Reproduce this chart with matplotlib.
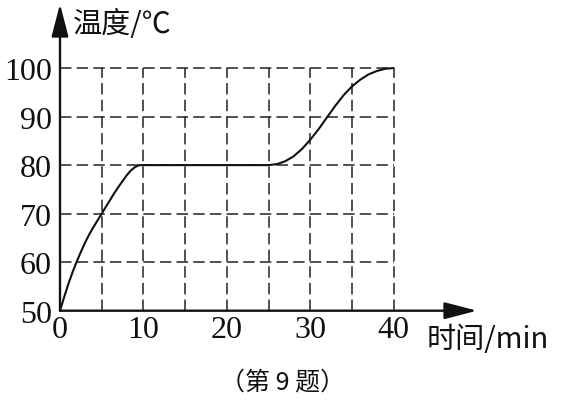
import matplotlib
matplotlib.use("Agg")
import matplotlib.pyplot as plt

# ---- data ----
time_min = [0, 0.5, 1, 1.5, 2, 2.5, 3, 3.5, 4, 4.5, 5, 5.5, 6, 6.5, 7, 7.5, 8, 8.5, 9, 9.5,
            10, 15, 20, 25,
            26, 27, 28, 29, 30, 31, 32, 33, 34, 35, 36, 37, 38, 39, 40]
temp_c = [50, 52.8, 55.5, 57.9, 60.1, 62.1, 64.0, 65.7, 67.2, 68.6, 70.0, 71.4, 72.8, 74.2,
          75.5, 76.7, 77.9, 78.9, 79.6, 80,
          80, 80, 80, 80,
          80.2, 80.8, 81.8, 83.3, 85.2, 87.4, 89.8, 92.2, 94.4, 96.2, 97.6, 98.7, 99.4, 99.85, 100]
x_ticks = [0, 10, 20, 30, 40]
y_ticks = [50, 60, 70, 80, 90, 100]
grid_x = [5, 10, 15, 20, 25, 30, 35, 40]
grid_y = [60, 70, 80, 90, 100]
x_label = "时间/min"
y_label = "温度/℃"
caption = "（第 9 题）"

W, H = 567, 402
fig = plt.figure(figsize=(W / 100, H / 100), dpi=100)
ax = fig.add_axes([60 / W, 1 - 311.7 / H, (477 - 60) / W, (311.7 - 5) / H])
ax.set_xlim(0, 50.0)
ax.set_ylim(50, 113.2)
for s in ax.spines.values():
    s.set_visible(False)

# dashed grid
dash = (0, (7.5, 3.4))
ax.vlines(grid_x, 50, 100, colors="#222", linewidth=1.1, linestyles=dash, zorder=1)
ax.hlines(grid_y, 0, 40, colors="#222", linewidth=1.1, linestyles=dash, zorder=1)

# curve
ax.plot(time_min, temp_c, color="#111", linewidth=1.5, solid_joinstyle="round",
        solid_capstyle="round", zorder=3)

# axes with arrows
arrow = dict(arrowstyle="-|>,head_length=1.0,head_width=0.26", color="#111",
             linewidth=1.7, shrinkA=0, shrinkB=0, mutation_scale=20)
ax.annotate("", xy=(1, 0), xytext=(0, 0), xycoords="axes fraction",
            textcoords="axes fraction", arrowprops=arrow, zorder=4)
ax.annotate("", xy=(0, 1), xytext=(0, 0), xycoords="axes fraction",
            textcoords="axes fraction", arrowprops=arrow, zorder=4)

serif = "Liberation Serif"
ax.set_xticks(x_ticks)
ax.set_xticklabels([str(v) for v in x_ticks], fontfamily=serif, fontsize=23)
ax.set_yticks(y_ticks)
ax.set_yticklabels([str(v) for v in y_ticks], fontfamily=serif, fontsize=23)
ax.tick_params(axis="both", length=0, colors="#111")
ax.tick_params(axis="x", pad=3)
ax.tick_params(axis="y", pad=6)

cjk = ["Noto Sans CJK SC", "DejaVu Sans"]
fig.text(73 / W, 1 - 25 / H, y_label, family=cjk, fontsize=21, ha="left", va="center",
         color="#111")
fig.text(427 / W, 1 - 340 / H, x_label, family=cjk, fontsize=21, ha="left", va="center",
         color="#111")
fig.text(283 / W, 1 - 383 / H, caption, family=cjk, fontsize=18, ha="center", va="center",
         color="#111")

fig.savefig("out.png", dpi=100, facecolor="white")
